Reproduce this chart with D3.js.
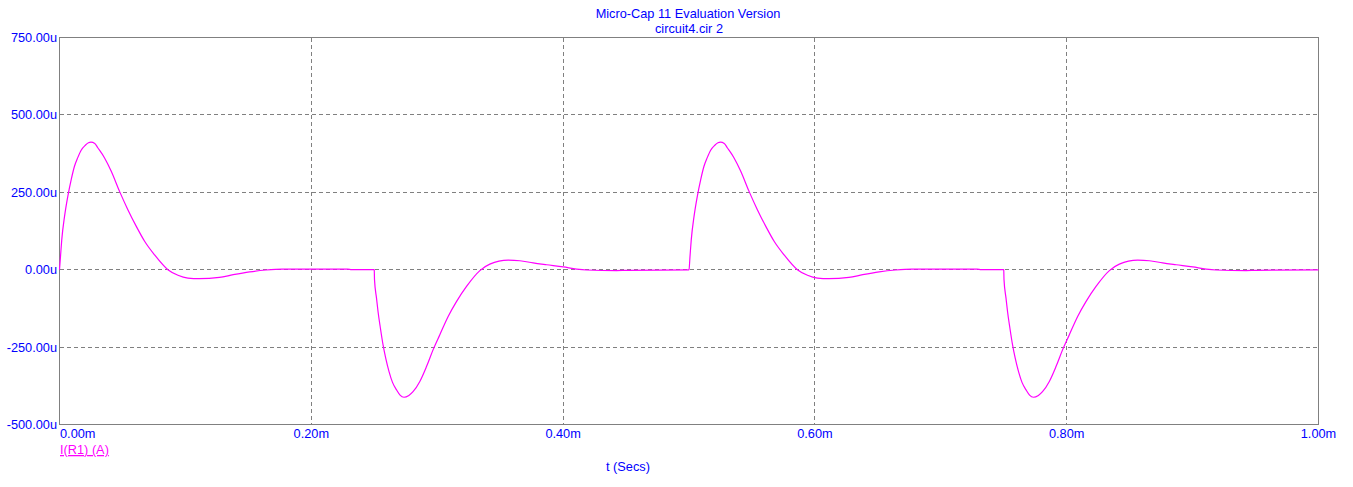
<!DOCTYPE html>
<html>
<head>
<meta charset="utf-8">
<script src="https://cdn.jsdelivr.net/npm/d3@7/dist/d3.min.js"></script>
<style>
  html, body { margin: 0; padding: 0; background: #ffffff; }
  svg { display: block; }
  text { font-family: Arial, "Liberation Sans", sans-serif; font-size: 12.75px; }
</style>
</head>
<body>
<svg id="chart" width="1353" height="487"></svg>
<script>
// ---- data (time in ms, current in uA) ----
const titleLines = ["Micro-Cap 11 Evaluation Version", "circuit4.cir 2"];
const xTickValues = [0, 0.2, 0.4, 0.6, 0.8, 1.0];
const xTickLabels = ["0.00m", "0.20m", "0.40m", "0.60m", "0.80m", "1.00m"];
const yTickValues = [-500, -250, 0, 250, 500, 750];
const yTickLabels = ["-500.00u", "-250.00u", "0.00u", "250.00u", "500.00u", "750.00u"];
const seriesName = "I(R1) (A)";
const xAxisTitle = "t (Secs)";

const timeMs = [
  0, 0.0008, 0.0018, 0.004, 0.0066, 0.0093, 0.0119, 0.0145, 0.0172, 0.0205, 0.023, 0.025,
  0.028, 0.0304, 0.0358, 0.0411, 0.0477, 0.0543, 0.061, 0.0676, 0.0755, 0.0861, 0.0941, 0.102, 0.111,
  0.127, 0.138, 0.151, 0.164, 0.177, 0.229, 0.232, 0.2498,
  0.25, 0.2502, 0.2518, 0.253, 0.2549, 0.257, 0.2591, 0.2618, 0.2645, 0.268, 0.2705, 0.2736,
  0.2775, 0.2808, 0.2862, 0.2915, 0.2967, 0.3021, 0.3087, 0.3153, 0.3233, 0.3339, 0.3418, 0.3564, 0.3657,
  0.3762, 0.3869, 0.4001, 0.4107, 0.4187, 0.4425, 0.4505, 0.4998,
  0.5, 0.5008, 0.5018, 0.504, 0.5066, 0.5093, 0.5119, 0.5145, 0.5172, 0.5205, 0.523, 0.525,
  0.528, 0.5304, 0.5358, 0.5411, 0.5477, 0.5543, 0.561, 0.5676, 0.5755, 0.5861, 0.5941, 0.602, 0.611,
  0.627, 0.638, 0.651, 0.664, 0.677, 0.729, 0.732, 0.7498,
  0.75, 0.7502, 0.7518, 0.753, 0.7549, 0.757, 0.7591, 0.7618, 0.7645, 0.768, 0.7705, 0.7736,
  0.7775, 0.7808, 0.7862, 0.7915, 0.7967, 0.8021, 0.8087, 0.8153, 0.8233, 0.8339, 0.8418, 0.8564, 0.8657,
  0.8762, 0.8869, 0.9001, 0.9107, 0.9187, 0.9425, 0.9505, 1.0
];
const currentUA = [
  0, 43, 97, 172, 237, 291, 334, 362, 386, 402, 410, 412,
  408, 394, 361, 318, 253, 194, 140, 92, 48, 0, -18, -27, -29,
  -25, -16, -7, -1, 2, 2, 0.5, 0.5,
  0, -32, -92, -135, -189, -243, -286, -330, -364, -390, -405, -412,
  -406, -394, -361, -313, -259, -210, -151, -103, -54, -3, 18, 31, 29,
  22, 16, 9, 2, -1, -3, -2, -0.5,
  0, 43, 97, 172, 237, 291, 334, 362, 386, 402, 410, 412,
  408, 394, 361, 318, 253, 194, 140, 92, 48, 0, -18, -27, -29,
  -25, -16, -7, -1, 2, 2, 0.5, 0.5,
  0, -32, -92, -135, -189, -243, -286, -330, -364, -390, -405, -412,
  -406, -394, -361, -313, -259, -210, -151, -103, -54, -3, 18, 31, 29,
  22, 16, 9, 2, -1, -3, -2, -0.5
];

(function () {
// ---- layout ----
const plotL = 59.5, plotR = 1318.5, plotT = 37.5, plotB = 424.5;
const textBlue = "#0000ff";
const gridGray = "#808080";
const traceColor = "#ff00ff";

const svg = d3.select("#chart");
const x = d3.scaleLinear().domain([0, 1.0]).range([plotL, plotR]);
const y = d3.scaleLinear().domain([-500, 750]).range([plotB, plotT]);
const snap = v => Math.round(v - 0.5) + 0.5;

// grid
const grid = svg.append("g");
xTickValues.slice(1, -1).forEach(v => {
  const px = snap(x(v));
  grid.append("line").attr("x1", px).attr("x2", px).attr("y1", plotT).attr("y2", plotB)
    .attr("stroke", gridGray).attr("stroke-width", 1).attr("stroke-dasharray", "4,3")
    .attr("shape-rendering", "crispEdges");
});
yTickValues.slice(1, -1).forEach(v => {
  const py = snap(y(v));
  grid.append("line").attr("x1", plotL).attr("x2", plotR).attr("y1", py).attr("y2", py)
    .attr("stroke", gridGray).attr("stroke-width", 1).attr("stroke-dasharray", "4,3")
    .attr("shape-rendering", "crispEdges");
});

// frame
svg.append("rect").attr("x", plotL).attr("y", plotT).attr("width", plotR - plotL).attr("height", plotB - plotT)
  .attr("fill", "none").attr("stroke", gridGray).attr("stroke-width", 1).attr("shape-rendering", "crispEdges");

// trace
const pts = timeMs.map((t, i) => [t, currentUA[i]]);
const line = d3.line().x(d => x(d[0])).y(d => y(d[1])).curve(d3.curveMonotoneX);
svg.append("path").attr("d", line(pts)).attr("fill", "none")
  .attr("stroke", traceColor).attr("stroke-width", 1.2);

// y tick labels
yTickValues.forEach((v, i) => {
  svg.append("text").attr("x", 57).attr("y", y(v) + 4.5).attr("text-anchor", "end")
    .attr("fill", textBlue).text(yTickLabels[i]);
});

// x tick labels
xTickValues.forEach((v, i) => {
  svg.append("text").attr("x", i === 0 ? plotL + 0.5 : x(v)).attr("y", 438)
    .attr("text-anchor", i === 0 ? "start" : "middle")
    .attr("fill", textBlue).text(xTickLabels[i]);
});

// series label (underlined)
svg.append("text").attr("x", 60).attr("y", 454).attr("fill", traceColor)
  .attr("text-decoration", "underline").text(seriesName);

// x axis title
svg.append("text").attr("x", 628).attr("y", 471).attr("text-anchor", "middle")
  .attr("fill", textBlue).text(xAxisTitle);

// titles
svg.append("text").attr("x", 688).attr("y", 17.5).attr("text-anchor", "middle")
  .attr("fill", textBlue).text(titleLines[0]);
svg.append("text").attr("x", 689).attr("y", 33).attr("text-anchor", "middle")
  .attr("fill", textBlue).text(titleLines[1]);
})();
</script>
</body>
</html>
